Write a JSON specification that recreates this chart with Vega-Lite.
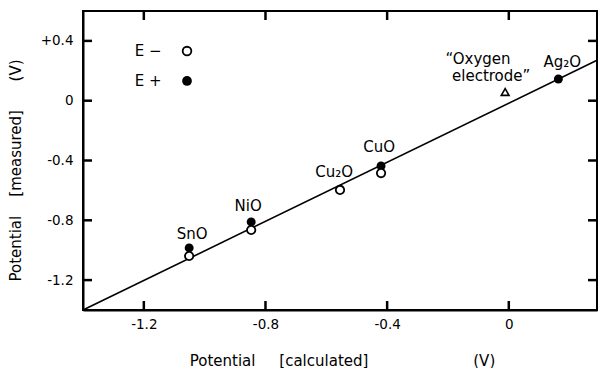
{
  "$schema": "https://vega.github.io/schema/vega-lite/v6.json",
  "width": 514,
  "height": 299,
  "autosize": {"type": "none"},
  "padding": {"left": 83, "top": 11, "right": 1, "bottom": 58},
  "background": "white",
  "config": {
    "view": {"stroke": "black", "strokeWidth": 2},
    "font": "DejaVu Sans",
    "axis": {
      "grid": false,
      "ticks": false,
      "domainColor": "black",
      "domainWidth": 2,
      "labelFont": "DejaVu Sans",
      "labelFontSize": 13.5,
      "labelColor": "black",
      "titleFont": "DejaVu Sans",
      "titleFontSize": 15,
      "titleFontWeight": "normal",
      "titleColor": "black"
    }
  },
  "datasets": {
    "fit": [{"x": -1.4, "y": -1.4}, {"x": 0.29, "y": 0.27}],
    "eminus": [
      {"compound": "SnO", "x": -1.051, "y": -1.039},
      {"compound": "NiO", "x": -0.847, "y": -0.865},
      {"compound": "Cu2O", "x": -0.555, "y": -0.597},
      {"compound": "CuO", "x": -0.42, "y": -0.484}
    ],
    "eplus": [
      {"compound": "SnO", "x": -1.051, "y": -0.985},
      {"compound": "NiO", "x": -0.847, "y": -0.811},
      {"compound": "CuO", "x": -0.42, "y": -0.437},
      {"compound": "Ag2O", "x": 0.163, "y": 0.145}
    ],
    "oxygen": [{"compound": "Oxygen electrode", "x": -0.012, "y": 0.058}],
    "labels": [
      {"text": "SnO", "x": -1.041, "y": -0.892},
      {"text": "NiO", "x": -0.857, "y": -0.704},
      {"text": "Cu₂O", "x": -0.574, "y": -0.477},
      {"text": "CuO", "x": -0.426, "y": -0.31},
      {"text": "Ag₂O", "x": 0.176, "y": 0.262},
      {"text": "“Oxygen", "x": -0.101, "y": 0.279},
      {"text": "electrode”", "x": -0.058, "y": 0.165},
      {"text": "E −", "x": -1.186, "y": 0.332},
      {"text": "E +", "x": -1.186, "y": 0.132}
    ],
    "legendOpen": [{"series": "E-", "x": -1.058, "y": 0.332}],
    "legendFilled": [{"series": "E+", "x": -1.058, "y": 0.132}],
    "xticks": [{"v": -1.2}, {"v": -0.8}, {"v": -0.4}, {"v": 0}],
    "yticks": [{"v": 0.4}, {"v": 0}, {"v": -0.4}, {"v": -0.8}, {"v": -1.2}]
  },
  "layer": [
    {
      "data": {"name": "fit"},
      "mark": {"type": "line", "color": "black", "strokeWidth": 1.6},
      "encoding": {
        "x": {
          "field": "x", "type": "quantitative",
          "scale": {"domain": [-1.4, 0.29], "nice": false, "zero": false},
          "axis": {
            "orient": "bottom",
            "values": [-1.2, -0.8, -0.4, 0],
            "labelPadding": 7,
            "labelExpr": "datum.value == 0 ? '0' : datum.value > 0 ? '+' + format(datum.value, '.1f') : '-' + format(-datum.value, '.1f')",
            "title": "Potential\u00a0\u00a0\u00a0\u00a0\u00a0[calculated]\u00a0\u00a0\u00a0\u00a0\u00a0\u00a0\u00a0\u00a0\u00a0\u00a0\u00a0\u00a0\u00a0\u00a0\u00a0\u00a0\u00a0\u00a0\u00a0\u00a0\u00a0\u00a0(V)",
            "titleX": 259,
            "titleY": 50,
            "titleBaseline": "middle"
          }
        },
        "y": {
          "field": "y", "type": "quantitative",
          "scale": {"domain": [-1.4, 0.6], "nice": false, "zero": false},
          "axis": {
            "orient": "left",
            "values": [0.4, 0, -0.4, -0.8, -1.2],
            "labelPadding": 10,
            "labelExpr": "datum.value == 0 ? '0' : datum.value > 0 ? '+' + format(datum.value, '.1f') : '-' + format(-datum.value, '.1f')",
            "title": "Potential\u00a0\u00a0\u00a0\u00a0[measured]\u00a0\u00a0\u00a0\u00a0\u00a0\u00a0(V)",
            "titleX": -68,
            "titleY": 159,
            "titleBaseline": "middle"
          }
        }
      }
    },
    {
      "data": {"name": "xticks"},
      "mark": {"type": "tick", "orient": "vertical", "color": "black", "size": 9, "thickness": 2.5, "yOffset": -4.5, "opacity": 1},
      "encoding": {
        "x": {"field": "v", "type": "quantitative"},
        "y": {"datum": -1.4, "type": "quantitative"}
      }
    },
    {
      "data": {"name": "xticks"},
      "mark": {"type": "tick", "orient": "vertical", "color": "black", "size": 9, "thickness": 2.5, "yOffset": 4.5, "opacity": 1},
      "encoding": {
        "x": {"field": "v", "type": "quantitative"},
        "y": {"datum": 0.6, "type": "quantitative"}
      }
    },
    {
      "data": {"name": "yticks"},
      "mark": {"type": "tick", "orient": "horizontal", "color": "black", "size": 9, "thickness": 2.5, "xOffset": 4.5, "opacity": 1},
      "encoding": {
        "y": {"field": "v", "type": "quantitative"},
        "x": {"datum": -1.4, "type": "quantitative"}
      }
    },
    {
      "data": {"name": "yticks"},
      "mark": {"type": "tick", "orient": "horizontal", "color": "black", "size": 9, "thickness": 2.5, "xOffset": -4.5, "opacity": 1},
      "encoding": {
        "y": {"field": "v", "type": "quantitative"},
        "x": {"datum": 0.29, "type": "quantitative"}
      }
    },
    {
      "data": {"name": "eplus"},
      "mark": {"type": "point", "shape": "circle", "filled": true, "color": "black", "size": 80, "opacity": 1},
      "encoding": {
        "x": {"field": "x", "type": "quantitative"},
        "y": {"field": "y", "type": "quantitative"}
      }
    },
    {
      "data": {"name": "eminus"},
      "mark": {"type": "point", "shape": "circle", "filled": true, "fill": "white", "stroke": "black", "strokeWidth": 1.8, "size": 70, "opacity": 1, "fillOpacity": 1},
      "encoding": {
        "x": {"field": "x", "type": "quantitative"},
        "y": {"field": "y", "type": "quantitative"}
      }
    },
    {
      "data": {"name": "oxygen"},
      "mark": {"type": "point", "shape": "triangle-up", "filled": false, "stroke": "black", "strokeWidth": 1.6, "size": 60, "opacity": 1},
      "encoding": {
        "x": {"field": "x", "type": "quantitative"},
        "y": {"field": "y", "type": "quantitative"}
      }
    },
    {
      "data": {"name": "legendOpen"},
      "mark": {"type": "point", "shape": "circle", "filled": true, "fill": "white", "stroke": "black", "strokeWidth": 1.8, "size": 75, "opacity": 1},
      "encoding": {
        "x": {"field": "x", "type": "quantitative"},
        "y": {"field": "y", "type": "quantitative"}
      }
    },
    {
      "data": {"name": "legendFilled"},
      "mark": {"type": "point", "shape": "circle", "filled": true, "color": "black", "size": 95, "opacity": 1},
      "encoding": {
        "x": {"field": "x", "type": "quantitative"},
        "y": {"field": "y", "type": "quantitative"}
      }
    },
    {
      "data": {"name": "labels"},
      "mark": {"type": "text", "font": "DejaVu Sans", "fontSize": 15, "color": "black", "align": "center", "baseline": "middle"},
      "encoding": {
        "x": {"field": "x", "type": "quantitative"},
        "y": {"field": "y", "type": "quantitative"},
        "text": {"field": "text"}
      }
    }
  ]
}
